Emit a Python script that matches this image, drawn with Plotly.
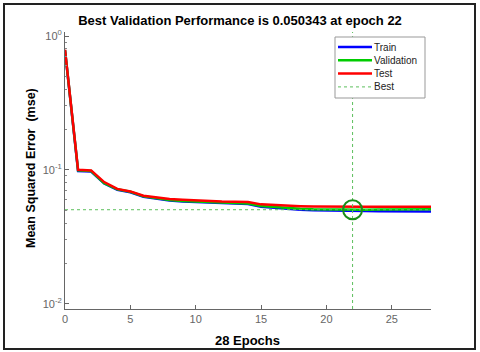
import plotly.graph_objects as go

epochs = list(range(29))
train = [0.78, 0.098, 0.097, 0.079, 0.071, 0.068, 0.063, 0.061, 0.059, 0.058,
         0.0575, 0.057, 0.0565, 0.056, 0.0555, 0.053, 0.052, 0.051, 0.0503, 0.0499,
         0.0496, 0.0494, 0.0493, 0.0492, 0.0491, 0.049, 0.049, 0.0489, 0.0489]
validation = [0.785, 0.099, 0.098, 0.0795, 0.0715, 0.0685, 0.0635, 0.0615, 0.0595, 0.0585,
              0.058, 0.0575, 0.057, 0.0565, 0.056, 0.0537, 0.0527, 0.0518, 0.0512, 0.0508,
              0.0506, 0.0505, 0.050343, 0.0504, 0.0505, 0.0505, 0.0506, 0.0506, 0.0507]
test = [0.79, 0.1, 0.099, 0.081, 0.072, 0.069, 0.064, 0.062, 0.0605, 0.0598,
        0.059, 0.0585, 0.058, 0.0578, 0.0575, 0.0552, 0.0545, 0.054, 0.0535, 0.0532,
        0.053, 0.053, 0.053, 0.053, 0.053, 0.053, 0.053, 0.053, 0.053]
best_epoch = 22
best_perf = 0.050343
y_lo, y_hi = 10 ** -2.04, 10 ** 0.03

legend_names = ["Train", "Validation", "Test", "Best"]
colors = ["#0000ff", "#00cc00", "#ff0000"]
best_color = "#5cbf5c"

font = "Liberation Sans, Arial, sans-serif"

fig = go.Figure()
for name, ys, c in zip(legend_names[:3], [train, validation, test], colors):
    fig.add_trace(go.Scatter(x=epochs, y=ys, name=name, mode="lines",
                             line=dict(color=c, width=2.5), showlegend=False))
fig.add_trace(go.Scatter(x=[0, 28, None, best_epoch, best_epoch],
                         y=[best_perf, best_perf, None, y_lo, y_hi],
                         name="Best", mode="lines", showlegend=False,
                         line=dict(color=best_color, width=1, dash="dot")))
fig.add_trace(go.Scatter(x=[best_epoch], y=[best_perf], mode="markers", showlegend=False,
                         marker=dict(symbol="circle-open", size=19,
                                     line=dict(color="#1a8c1a", width=2), color="#1a8c1a")))

# pixel -> paper helpers (plot area in pixels)
L, R, T, B = 65, 431, 32, 309
def px(x):
    return (x - L) / (R - L)
def py(y):
    return (B - y) / (B - T)

# outer frame
fig.add_shape(type="rect", xref="paper", yref="paper",
              x0=px(4), x1=px(475), y0=py(349), y1=py(4),
              line=dict(color="#222222", width=2))

# legend box, drawn by hand to get the tight MATLAB spacing
fig.add_shape(type="rect", xref="paper", yref="paper",
              x0=px(335), x1=px(425), y0=py(98), y1=py(37),
              line=dict(color="#999999", width=1), fillcolor="white", layer="above")
for i, name in enumerate(legend_names):
    yy = 47 + i * 13.3
    if i < 3:
        ln = dict(color=colors[i], width=2.5)
    else:
        ln = dict(color=best_color, width=1, dash="dot")
    fig.add_shape(type="line", xref="paper", yref="paper",
                  x0=px(338), x1=px(372), y0=py(yy), y1=py(yy), line=ln, layer="above")
    fig.add_annotation(text=name, xref="paper", yref="paper", x=px(372), y=py(yy),
                       xanchor="left", yanchor="middle", showarrow=False,
                       font=dict(size=10, color="#222222", family=font))

# axis titles
fig.add_annotation(text="<b>Mean Squared Error  (mse)</b>", xref="paper", yref="paper",
                   x=px(31), y=py(168), textangle=-90, showarrow=False,
                   xanchor="center", yanchor="middle",
                   font=dict(size=12.5, color="black", family=font))
fig.add_annotation(text="<b>28 Epochs</b>", xref="paper", yref="paper",
                   x=px(247), y=py(340), showarrow=False,
                   xanchor="center", yanchor="middle",
                   font=dict(size=13, color="black", family=font))

fig.update_layout(
    width=480, height=352,
    margin=dict(l=L, r=480 - R, t=T, b=352 - B),
    paper_bgcolor="white", plot_bgcolor="white",
    font=dict(family=font, size=10, color="#444444"),
    title=dict(text="<b>Best Validation Performance is 0.050343 at epoch 22</b>",
               x=0.5, xref="container", y=1 - 20 / 352, yref="container", yanchor="middle",
               font=dict(size=13, color="black")),
    showlegend=False,
)
fig.update_xaxes(range=[0, 28], tickvals=[0, 5, 10, 15, 20, 25],
                 ticks="inside", ticklen=4, tickcolor="#666666",
                 showline=True, linecolor="#666666", linewidth=1,
                 showgrid=False, zeroline=False, automargin=False,
                 tickfont=dict(size=11, color="#666666"))
fig.update_yaxes(type="log", range=[-2.04, 0.03],
                 tickvals=[0.01, 0.1, 1],
                 ticktext=["10<sup>-2</sup>", "10<sup>-1</sup>", "10<sup>0</sup>"],
                 ticks="inside", ticklen=4, tickcolor="#666666",
                 minor=dict(ticks="inside", ticklen=2, tickcolor="#888888",
                            tickvals=[0.02, 0.03, 0.04, 0.05, 0.06, 0.07, 0.08, 0.09,
                                      0.2, 0.3, 0.4, 0.5, 0.6, 0.7, 0.8, 0.9]),
                 showline=True, linecolor="#666666", linewidth=1,
                 showgrid=False, zeroline=False, automargin=False,
                 tickfont=dict(size=11, color="#666666"))

fig.write_html("out.html", config={"displayModeBar": False},
               post_script="document.body.style.margin='0';document.body.style.overflow='hidden';")
